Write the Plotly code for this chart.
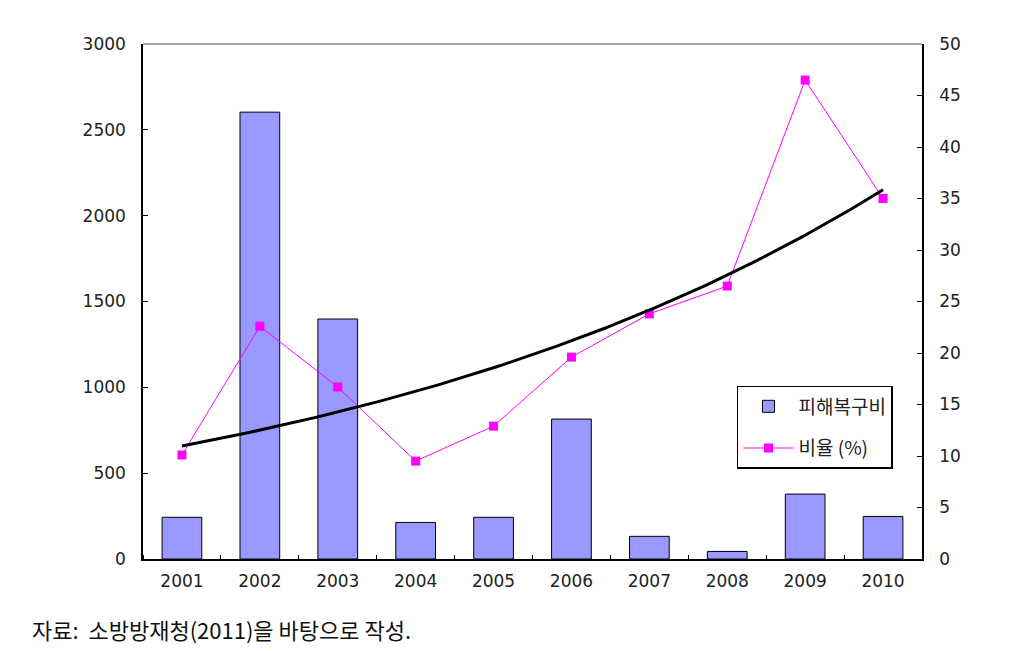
import numpy as np
import plotly.graph_objects as go

years = [2001, 2002, 2003, 2004, 2005, 2006, 2007, 2008, 2009, 2010]
recovery_cost = [243, 2603, 1398, 213, 243, 815, 132, 44, 378, 248]   # 피해복구비
ratio_pct = [10.1, 22.6, 16.7, 9.5, 12.9, 19.6, 23.8, 26.5, 46.5, 35.0]  # 비율 (%)
left_ticks = [0, 500, 1000, 1500, 2000, 2500, 3000]
right_ticks = [0, 5, 10, 15, 20, 25, 30, 35, 40, 45, 50]

# exponential trend line of the ratio series
idx = np.arange(len(years))
b, a = np.polyfit(idx, np.log(ratio_pct), 1)
tx = np.linspace(0, len(years) - 1, 200)
trend_x = years[0] + tx
trend_y = np.exp(a + b * tx)

tick_font = dict(family="DejaVu Sans", size=17, color="#222222")

fig = go.Figure()
fig.add_trace(go.Bar(
    x=years, y=recovery_cost, name="피해복구비", width=0.51,
    marker=dict(color="#9999FF", line=dict(color="black", width=1)),
    legendgroup="a",
))
fig.add_trace(go.Scatter(
    x=years, y=ratio_pct, name="비율 (%)", yaxis="y2", mode="lines+markers",
    line=dict(color="#FF00FF", width=1),
    marker=dict(symbol="square", size=9, color="#FF00FF"),
    legendgroup="b",
))
fig.add_trace(go.Scatter(
    x=trend_x, y=trend_y, yaxis="y2", mode="lines", showlegend=False,
    line=dict(color="black", width=3), hoverinfo="skip",
))

fig.update_layout(
    width=1009, height=651,
    margin=dict(l=143, r=87, t=44, b=92),
    paper_bgcolor="white", plot_bgcolor="white",
    showlegend=True,
    legend=dict(
        x=0.7625, y=0.336, xanchor="left", yanchor="top",
        bordercolor="black", borderwidth=1.5, bgcolor="white",
        font=dict(family="Noto Sans CJK KR", size=19, color="#222222"),
        tracegroupgap=14, itemwidth=50, entrywidth=112, entrywidthmode="pixels",
    ),
    xaxis=dict(
        range=[2000.5, 2010.5], tickmode="array", tickvals=years,
        ticktext=[str(y) for y in years], ticks="", showgrid=False,
        showline=True, linecolor="black", linewidth=1.5, zeroline=False,
        tickfont=tick_font, ticklabelstandoff=6,
        minor=dict(ticks="inside", tick0=2000.5, dtick=1, ticklen=4,
                   tickcolor="black", showgrid=False),
    ),
    yaxis=dict(
        range=[0, 3000], tickmode="array", tickvals=left_ticks,
        ticks="inside", ticklen=5, tickcolor="black", showgrid=False,
        showline=True, linecolor="black", linewidth=1.5, zeroline=False,
        tickfont=tick_font, ticklabelstandoff=12,
    ),
    yaxis2=dict(
        range=[0, 50], tickmode="array", tickvals=right_ticks,
        overlaying="y", side="right",
        ticks="inside", ticklen=5, tickcolor="black", showgrid=False,
        showline=True, linecolor="black", linewidth=1.5, zeroline=False,
        tickfont=tick_font, ticklabelstandoff=12,
    ),
    shapes=[dict(type="line", xref="paper", yref="paper", x0=0, x1=1, y0=1, y1=1,
                 line=dict(color="#888888", width=1.5))],
    annotations=[dict(
        text="자료:  소방방재청(2011)을 바탕으로 작성.", xref="paper", yref="paper",
        x=-0.145, y=-0.1, xanchor="left", yanchor="top", showarrow=False,
        font=dict(family="Noto Sans CJK KR", size=22, color="#111111"),
    )],
)

fig.write_html("out.html")
